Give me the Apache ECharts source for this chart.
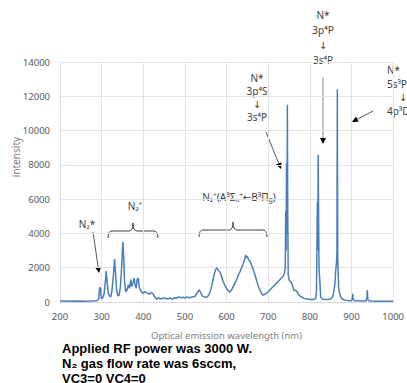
<!DOCTYPE html>
<html>
<head>
<meta charset="utf-8">
<script src="https://cdn.jsdelivr.net/npm/echarts@6/dist/echarts.min.js"></script>
<style>html,body{margin:0;padding:0;background:#fff;}#c{width:407px;height:383px;}</style>
</head>
<body>
<div id="c"></div>
<script>
// Optical emission spectrum
const wavelength = [200,220,240,260,275,285,290,293,295,297,299,302,306,309,311,313,316,319,322,325,328,331,333,336,339,342,345,348,350,351,353,355,358,361,364,367,370,372,375,378,380,383,385,388,390,393,396,399,403,407,411,415,419,423,426,429,432,436,440,445,450,455,460,465,470,475,480,485,490,495,500,505,510,515,520,525,530,534,538,542,546,550,554,558,562,566,570,574,577,580,584,588,592,596,600,604,608,612,616,620,624,628,632,636,640,643,646,648,650,653,656,660,664,668,672,676,680,684,688,692,696,700,704,708,712,716,720,724,728,732,736,739,741,742,743,744,745,746,747,748,750,753,756,759,762,765,768,772,776,780,785,790,795,800,805,810,814,816,818,819,820,822,824,826,830,835,840,845,850,854,856,858,860,862,864,865,866,867,869,871,874,878,882,886,890,895,900,902,903,904,908,915,920,925,930,935,937,938,939,941,950,960,970,980,990,1000];
const intensity = [60,50,60,50,60,70,90,200,800,850,250,200,500,1200,1800,1200,500,350,300,700,1500,2500,1800,700,350,400,900,2000,3000,3500,2600,1200,600,700,1000,800,1300,900,1100,1400,1000,800,1300,1400,900,700,600,500,600,550,500,450,550,500,350,250,150,250,200,180,250,200,180,230,170,250,220,300,250,280,230,300,250,280,300,350,550,700,550,350,300,280,300,450,700,1100,1600,1900,2000,1850,1750,1500,1200,950,800,650,580,700,900,1100,1300,1550,1750,2000,2250,2450,2750,2600,2650,2450,2400,2150,1900,1600,1250,950,700,500,400,450,520,600,700,800,900,1000,1100,1200,1300,1400,1500,1700,2000,5300,3000,8100,4000,11500,5000,1600,1300,1200,1150,900,650,700,650,450,350,300,220,190,170,150,140,150,200,700,5800,3000,8600,2000,1200,300,170,140,150,160,180,250,400,700,1000,1800,2300,2900,12400,2600,900,600,300,180,120,100,90,80,80,200,480,150,80,70,70,60,60,70,250,700,200,70,60,50,50,50,50,50];
const xTicks = {min: 200, max: 1000, step: 100};
const yTicks = {min: 0, max: 14000, step: 2000};

const seriesData = wavelength.map((w, i) => [w, intensity[i]]);

const labelFont = '"Noto Sans", "DejaVu Sans", sans-serif';
const annColor = '#404040';

function arrow(x1, y1, x2, y2, stroke) {
  const dx = x2 - x1, dy = y2 - y1, L = Math.hypot(dx, dy);
  const ux = dx / L, uy = dy / L, hl = 6, hw = 3;
  const bx = x2 - ux * hl, by = y2 - uy * hl;
  return [
    {type: 'line', shape: {x1: x1, y1: y1, x2: bx, y2: by}, style: {stroke: stroke || '#595959', lineWidth: 1}},
    {type: 'polygon', shape: {points: [[x2, y2], [bx - uy * hw, by + ux * hw], [bx + uy * hw, by - ux * hw]]}, style: {fill: '#000'}}
  ];
}
function brace(x1, x2, y, h) {
  const c = (x1 + x2) / 2;
  const st = {stroke: annColor, lineWidth: 1, fill: null};
  const bz = (ax, ay, cx, cy, bx, by) => ({type: 'bezierCurve',
    shape: {x1: ax, y1: ay, cpx1: cx, cpy1: cy, x2: bx, y2: by}, style: st});
  return [
    bz(x1, y + 7, x1, y, x1 + 4, y),
    {type: 'line', shape: {x1: x1 + 4, y1: y, x2: c - 4, y2: y}, style: st},
    bz(c - 4, y, c, y, c, y - h),
    bz(c, y - h, c, y, c + 4, y),
    {type: 'line', shape: {x1: c + 4, y1: y, x2: x2 - 4, y2: y}, style: st},
    bz(x2 - 4, y, x2, y, x2, y + 7)
  ];
}
function txt(x, y, s, opts) {
  return {type: 'text', x: x, y: y, style: Object.assign({text: s, fill: annColor,
    font: '10px ' + labelFont, textAlign: 'center', textVerticalAlign: 'middle'}, opts || {})};
}
const arrowFont = {font: '10px "DejaVu Sans", sans-serif', fill: '#404040'};

const chart = echarts.init(document.getElementById('c'), null, {renderer: 'svg'});
const graphics = [].concat(
  // N* 3p4P -> 3s4P (top)
  [txt(323, 15, 'N*'), txt(323, 30, '3p⁴P'), txt(323, 45, '↓', arrowFont), txt(323, 60, '3s⁴P')],
  arrow(323, 77, 323, 144, '#8c8c8c'),
  // N* 3p4S -> 3s4P
  [txt(257, 78, 'N*'), txt(257, 91, '3p⁴S'), txt(257, 104, '↓', arrowFont), txt(257, 117, '3s⁴P')],
  arrow(266, 132, 281, 169),
  // N* 5s3P -> 4p3D
  [txt(387, 70, 'N*', {textAlign: 'left'}), txt(387, 84, '5s³P', {textAlign: 'left'}),
   txt(403, 97, '↓', arrowFont), txt(387, 111, '4p³D', {textAlign: 'left'})],
  arrow(373, 111, 352, 122),
  // N2* label
  [txt(87, 224, 'N₂*')],
  arrow(93, 232, 99, 273),
  // N2+ brace
  [txt(135, 206, 'N₂⁺')], brace(108, 158, 231, 8),
  // N2+(A-B) brace
  [{type: 'text', x: 239, y: 197, style: {
      text: '{a|N₂⁺(A³Σᵤ⁺←B³Π}{s|g}{a|)}',
      rich: {a: {fontSize: 10, fontFamily: labelFont, fill: annColor},
             s: {fontSize: 7, fontFamily: labelFont, fill: annColor, padding: [5, 0, 0, 0]}},
      textAlign: 'center', textVerticalAlign: 'middle'}}],
  brace(199, 267, 230, 8),
  // y axis title
  [{type: 'text', x: 16, y: 157, rotation: Math.PI / 2, style: {text: 'intensity', fill: '#808080',
     font: '10px ' + labelFont, textAlign: 'center', textVerticalAlign: 'middle'}}],
  // caption
  [{type: 'text', x: 62, y: 348, style: {text: 'Applied RF power was 3000 W.', fill: '#000',
     font: 'bold 13px "Liberation Sans", Arial, sans-serif', textVerticalAlign: 'middle'}},
   {type: 'text', x: 62, y: 363, style: {text: 'N₂ gas flow rate was 6sccm,', fill: '#000',
     font: 'bold 13px "Liberation Sans", Arial, sans-serif', textVerticalAlign: 'middle'}},
   {type: 'text', x: 62, y: 378, style: {text: 'VC3=0 VC4=0', fill: '#000',
     font: 'bold 13px "Liberation Sans", Arial, sans-serif', textVerticalAlign: 'middle'}}]
);

chart.setOption({
  animation: false,
  backgroundColor: '#fff',
  grid: {left: 60, right: 7, top: 62, bottom: 81, containLabel: false},
  xAxis: {
    type: 'value', min: xTicks.min, max: xTicks.max, interval: xTicks.step,
    name: 'Optical emission wavelength (nm)', nameLocation: 'middle', nameGap: 28,
    nameTextStyle: {color: '#808080', fontSize: 9.5, fontFamily: labelFont},
    axisLine: {show: true, lineStyle: {color: '#d9d9d9'}},
    axisTick: {show: false},
    axisLabel: {color: '#595959', fontSize: 9.5, fontFamily: labelFont, margin: 9,
      showMaxLabel: true, showMinLabel: true, formatter: v => String(v)},
    splitLine: {show: true, lineStyle: {color: '#e3e3e3'}}
  },
  yAxis: {
    type: 'value', min: yTicks.min, max: yTicks.max, interval: yTicks.step,
    axisLine: {show: false}, axisTick: {show: false},
    axisLabel: {color: '#595959', fontSize: 9.5, fontFamily: labelFont, margin: 10, formatter: v => String(v)},
    splitLine: {show: true, lineStyle: {color: '#e3e3e3'}}
  },
  series: [{
    type: 'line', data: seriesData, showSymbol: false, symbol: 'none',
    lineStyle: {color: '#4a7ebb', width: 1.5}, itemStyle: {color: '#4a7ebb'}
  }],
  graphic: graphics
});
</script>
</body>
</html>
